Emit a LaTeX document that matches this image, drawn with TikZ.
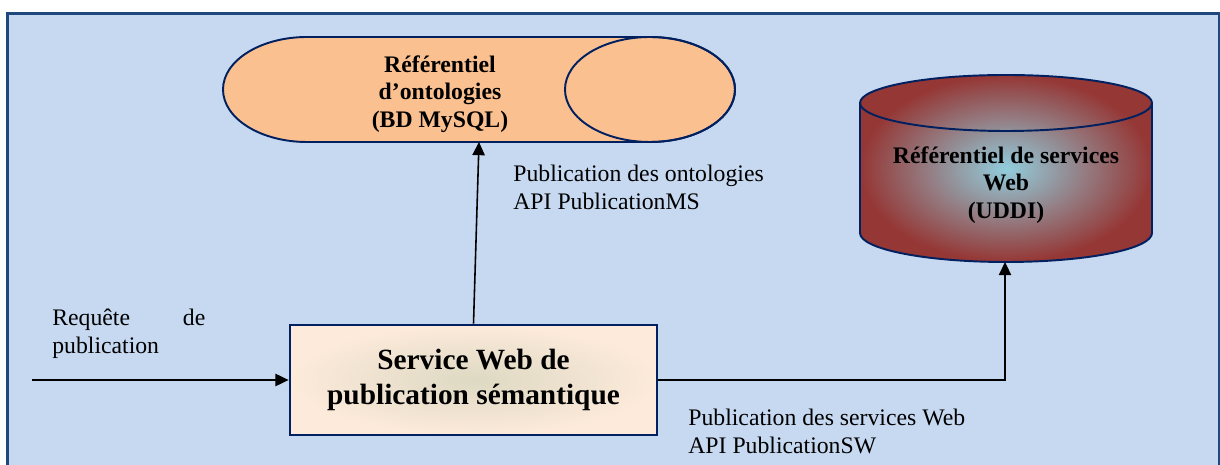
\documentclass[tikz,border=0pt]{standalone}
\usepackage{fontspec}
\setmainfont{Liberation Serif}
\usetikzlibrary{arrows.meta}

\definecolor{framefill}{RGB}{198,217,241}
\definecolor{frameline}{RGB}{31,73,125}
\definecolor{navy}{RGB}{0,32,96}
\definecolor{peach}{RGB}{250,192,144}
\definecolor{boxout}{RGB}{253,234,218}
\definecolor{boxin}{RGB}{221,217,195}
\definecolor{brick}{RGB}{149,55,53}
\definecolor{aqua}{RGB}{146,205,220}

\begin{document}
\begin{tikzpicture}[>={Triangle[length=7.5pt,width=7pt]},
  arr/.style={->, line width=0.9pt},
  lbl/.style={font=\fontsize{13.5}{16}\selectfont, align=left, anchor=west, inner sep=0pt},
  dbtext/.style={font=\fontsize{13.5}{15.6}\selectfont\bfseries, align=center},
  svcbox/.style={draw=navy, line width=1.6pt, inner color=boxin, outer color=boxout,
    minimum width=7.34cm, minimum height=2.2cm,
    font=\fontsize{16.7}{20}\selectfont\bfseries, align=center}]
  \useasboundingbox (0,0) rectangle (24.4,9.3);
  % background frame
  \draw[fill=framefill, draw=frameline, line width=1.7pt] (0.15,-1) rectangle (24.38,9.03);

  % ontology store, lying cylinder
  \draw[fill=peach, draw=navy, line width=1.1pt]
    (13,8.56) -- (6.14,8.56) arc (90:270:1.68 and 1.05) -- (13,6.46)
    arc (-90:90:1.7 and 1.05) -- cycle;
  \draw[navy, line width=1.1pt] (13,7.51) ellipse (1.7 and 1.05);
  \node[dbtext] (ont) at (8.8,7.42) {Référentiel\\d’ontologies\\(BD MySQL)};
  \coordinate (ontbot) at (9.58,6.46);

  % UDDI registry, standing cylinder
  \shade[inner color=aqua, outer color=brick]
    (17.2,7.24) -- (17.2,4.64) arc (180:360:2.92 and 0.58) -- (23.04,7.24)
    arc (0:180:2.92 and 0.56) -- cycle;
  \draw[navy, line width=1.1pt]
    (17.2,7.24) -- (17.2,4.64) arc (180:360:2.92 and 0.58) -- (23.04,7.24)
    arc (0:180:2.92 and 0.56) -- cycle;
  \draw[navy, line width=1.1pt] (17.2,7.24) arc (180:360:2.92 and 0.56);
  \node[dbtext] (uddi) at (20.12,5.6) {Référentiel de services\\Web\\(UDDI)};
  \coordinate (uddibot) at (20.1,4.06);

  % publication service
  \node[svcbox] (svc) at (9.47,1.7) {Service Web de\\publication sémantique};
  \coordinate (in) at (0.64,1.7);

  \draw[arr] (in) -- (svc.west);
  \draw[arr] (svc.north) -- (ontbot);
  \draw[arr] (svc.east) -| (uddibot);

  % labels
  \node[lbl, text width=3.06cm] (req) at (1.04,2.63) {Requête\hfill de\\publication};
  \node[lbl] (pubms) at (10.26,5.56) {Publication des ontologies\\API PublicationMS};
  \node[lbl] (pubsw) at (13.76,0.67) {Publication des services Web\\API PublicationSW};
\end{tikzpicture}
\end{document}
